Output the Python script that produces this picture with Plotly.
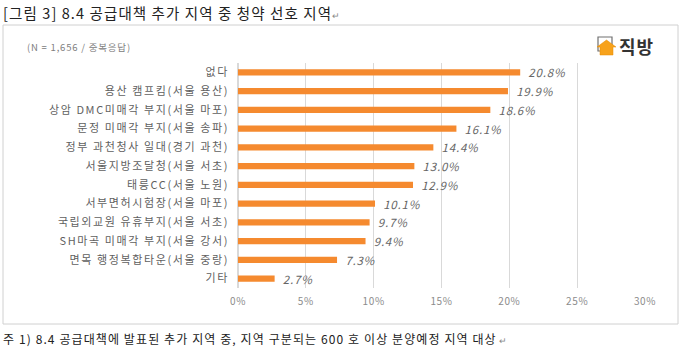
import plotly.graph_objects as go

# Survey: preferred subscription areas among the 8.4 supply-plan sites (N = 1,656, multiple answers)
regions = [
    "없다",
    "용산 캠프킴(서울 용산)",
    "상암 DMC미매각 부지(서울 마포)",
    "문정 미매각 부지(서울 송파)",
    "정부 과천청사 일대(경기 과천)",
    "서울지방조달청(서울 서초)",
    "태릉CC(서울 노원)",
    "서부면허시험장(서울 마포)",
    "국립외교원 유휴부지(서울 서초)",
    "SH마곡 미매각 부지(서울 강서)",
    "면목 행정복합타운(서울 중랑)",
    "기타",
]
shares = [20.8, 19.9, 18.6, 16.1, 14.4, 13.0, 12.9, 10.1, 9.7, 9.4, 7.3, 2.7]
tick_values = [0, 5, 10, 15, 20, 25, 30]
tick_labels = ["0%", "5%", "10%", "15%", "20%", "25%", "30%"]

W, H = 680, 348
ML, MR, MT, MB = 238, 35, 63, 60
FONT = "Noto Sans CJK KR"
ORANGE = "#f58a2f"


def px_x(px):
    return (px - ML) / (W - ML - MR)


def px_y(py):
    return (H - MB - py) / (H - MT - MB)


def spaced(s, ls):
    return f"<span style='letter-spacing:{ls}px'>{s}</span>"


fig = go.Figure(
    go.Bar(
        x=shares,
        y=regions,
        orientation="h",
        marker=dict(color=ORANGE, line=dict(width=0)),
        text=["\u00a0\u00a0" + spaced(f"{v:.1f}%", 0.8) for v in shares],
        textposition="outside",
        constraintext="none",
        textfont=dict(family=FONT, size=11.5, color="#666666", style="italic"),
        cliponaxis=False,
        width=0.33,
    )
)

fig.update_yaxes(
    autorange="reversed",
    tickvals=regions,
    ticktext=[spaced(r, 1.6) for r in regions],
    showgrid=False,
    showline=False,
    ticks="",
    ticklabelstandoff=8,
    tickfont=dict(family=FONT, size=11, color="#5f5f5f"),
)
fig.update_xaxes(
    range=[0, 30],
    tickvals=tick_values,
    ticktext=[spaced(t, 0.6) for t in tick_labels],
    showgrid=True,
    gridcolor="#d9d9d9",
    gridwidth=1,
    zeroline=True,
    zerolinecolor="#d9d9d9",
    showline=False,
    ticks="",
    ticklabelstandoff=6,
    tickfont=dict(family=FONT, size=10, color="#8c8c8c"),
)

shapes = [
    # chart frame
    dict(type="rect", xref="paper", yref="paper",
         x0=px_x(3), x1=px_x(678), y0=px_y(324), y1=px_y(25),
         line=dict(color="#d0d0d0", width=1), fillcolor="rgba(0,0,0,0)", layer="below"),
    # logo: card outline
    dict(type="rect", xref="paper", yref="paper",
         x0=px_x(598), x1=px_x(612), y0=px_y(51), y1=px_y(37),
         line=dict(color="#707070", width=1.2), fillcolor="white"),
    # logo: house
    dict(type="path", xref="paper", yref="paper",
         path=(f"M {px_x(600)},{px_y(55)} L {px_x(600)},{px_y(47)} L {px_x(597)},{px_y(47)} "
               f"L {px_x(606.5)},{px_y(40)} L {px_x(616)},{px_y(47)} L {px_x(613)},{px_y(47)} "
               f"L {px_x(613)},{px_y(55)} Z"),
         line=dict(color="#e58a00", width=0.5), fillcolor="#f7a21b"),
]

annotations = [
    dict(text=spaced("[그림 3] 8.4 공급대책 추가 지역 중 청약 선호 지역", 1.1)
         + "<span style='font-size:9px;color:#888'>↵</span>",
         xref="paper", yref="paper", x=px_x(1), y=px_y(12),
         xanchor="left", yanchor="middle", showarrow=False,
         font=dict(family=FONT, size=14.5, color="#222222")),
    dict(text=spaced("(N = 1,656 / 중복응답)", 0.8),
         xref="paper", yref="paper", x=px_x(25), y=px_y(47),
         xanchor="left", yanchor="middle", showarrow=False,
         font=dict(family=FONT, size=9.5, color="#808080")),
    dict(text="<b>" + spaced("직방", 1) + "</b>",
         xref="paper", yref="paper", x=px_x(617), y=px_y(46),
         xanchor="left", yanchor="middle", showarrow=False,
         font=dict(family=FONT, size=18, color="#333333")),
    dict(text=spaced("주 1) 8.4 공급대책에 발표된 추가 지역 중, 지역 구분되는 600 호 이상 분양예정 지역 대상", 1.1)
         + " <span style='font-size:9px;color:#888'>↵</span>",
         xref="paper", yref="paper", x=px_x(1), y=px_y(338),
         xanchor="left", yanchor="middle", showarrow=False,
         font=dict(family=FONT, size=12, color="#222222")),
]

fig.update_layout(
    width=W,
    height=H,
    margin=dict(l=ML, r=MR, t=MT, b=MB),
    paper_bgcolor="white",
    plot_bgcolor="white",
    showlegend=False,
    shapes=shapes,
    annotations=annotations,
    bargap=0.67,
)

fig.write_html("out.html")
